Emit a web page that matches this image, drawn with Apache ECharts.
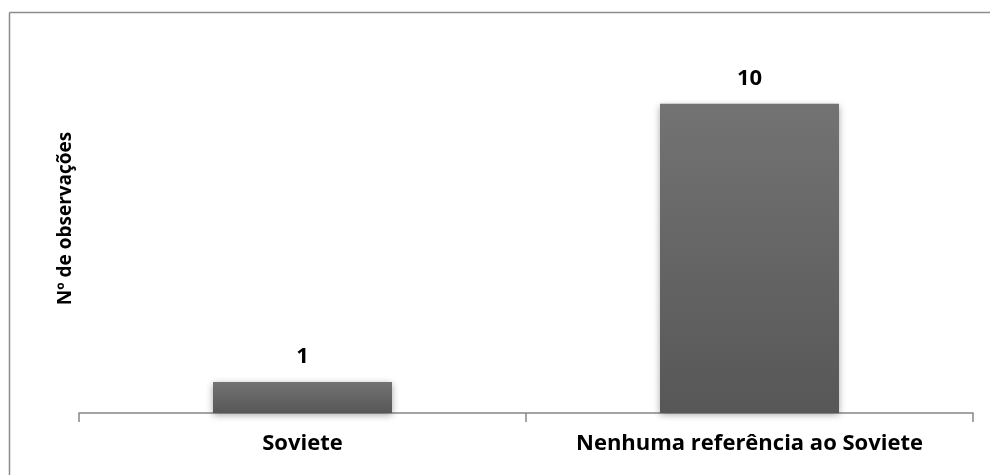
<!DOCTYPE html>
<html>
<head>
<meta charset="utf-8">
<script src="https://cdn.jsdelivr.net/npm/echarts@6/dist/echarts.min.js"></script>
<style>
  html, body { margin: 0; padding: 0; background: #fff; }
  #chart { width: 990px; height: 475px; }
</style>
</head>
<body>
<div id="chart"></div>
<script>
// Observation counts per category
const categories = ['Soviete', 'Nenhuma referência ao Soviete'];
const observations = [1, 10];
const yAxisTitle = 'Nº de observações';

const FONT = '"Open Sans", "Noto Sans", sans-serif';
const chart = echarts.init(document.getElementById('chart'), null, { renderer: 'canvas' });

chart.setOption({
  backgroundColor: '#ffffff',
  animation: false,
  grid: { left: 79, right: 17, top: 42, bottom: 62 },
  graphic: [
    // chart frame (top and left edges)
    { type: 'line', shape: { x1: 9.5, y1: 12.5, x2: 990, y2: 12.5 }, style: { stroke: '#8c8c8c', lineWidth: 1.5 } },
    { type: 'line', shape: { x1: 9.5, y1: 12.5, x2: 9.5, y2: 475 }, style: { stroke: '#8c8c8c', lineWidth: 1.5 } }
  ],
  xAxis: {
    type: 'category',
    data: categories,
    axisLine: { lineStyle: { color: '#868686', width: 1.5 } },
    axisTick: { show: true, alignWithLabel: false, length: 9, lineStyle: { color: '#868686', width: 1.5 } },
    axisLabel: {
      interval: 0,
      hideOverlap: false,
      color: '#000', fontFamily: FONT, fontWeight: 'bold', fontSize: 22, margin: 20
    }
  },
  yAxis: {
    type: 'value',
    min: 0,
    max: 12,
    name: yAxisTitle,
    nameLocation: 'middle',
    nameRotate: 90,
    nameGap: 4,
    nameTextStyle: { color: '#000', fontFamily: FONT, fontWeight: 'bold', fontSize: 19, padding: [0, 0, 0, 18] },
    axisLine: { show: false },
    axisTick: { show: false },
    axisLabel: { show: false },
    splitLine: { show: false }
  },
  series: [{
    type: 'bar',
    data: observations,
    barWidth: 179,
    itemStyle: {
      color: new echarts.graphic.LinearGradient(0, 0, 0, 1, [
        { offset: 0, color: '#737373' },
        { offset: 1, color: '#575757' }
      ]),
      shadowColor: 'rgba(0,0,0,0.35)',
      shadowBlur: 7,
      shadowOffsetY: 2
    },
    label: {
      show: true,
      position: 'top',
      distance: 14,
      color: '#000',
      fontFamily: FONT,
      fontWeight: 'bold',
      fontSize: 22
    }
  }]
});
</script>
</body>
</html>
